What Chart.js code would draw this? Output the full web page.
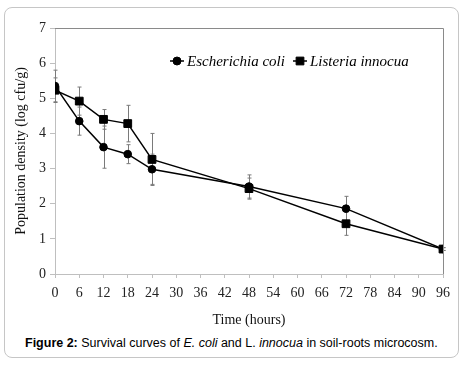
<!DOCTYPE html>
<html>
<head>
<meta charset="utf-8">
<script src="https://cdn.jsdelivr.net/npm/chart.js@4/dist/chart.umd.min.js"></script>
<style>
  html, body { margin: 0; padding: 0; background: #fff; }
  body { width: 466px; height: 365px; position: relative; overflow: hidden; }
  #card {
    position: absolute; left: 4px; top: 7px; width: 455px; height: 351px;
    border: 1px solid #c6c6c6; border-radius: 8px; box-sizing: border-box;
  }
  #wrap { position: absolute; left: 0; top: 0; width: 466px; height: 330px; }
  #caption {
    position: absolute; left: 25px; top: 336px;
    font: 12.5px "Liberation Sans", Arial, sans-serif; color: #000; white-space: nowrap;
  }
</style>
</head>
<body>
<div id="card"></div>
<div id="wrap"><canvas id="chart" width="466" height="330"></canvas></div>
<div id="caption"><b>Figure 2:</b> Survival curves of <i>E. coli</i> and L. <i>innocua</i> in soil-roots microcosm.</div>
<script>
    // sampling times (hours)
    const hours = [0, 6, 12, 18, 24, 48, 72, 96];
    const xTicks = [0, 6, 12, 18, 24, 30, 36, 42, 48, 54, 60, 66, 72, 78, 84, 90, 96];

    // log cfu/g
    const ecoli = [5.35, 4.35, 3.61, 3.41, 2.98, 2.49, 1.86, 0.71];
    const ecoliErr = [0.45, 0.40, 0.60, 0.27, 0.43, 0.33, 0.35, 0.04];
    const listeria = [5.23, 4.92, 4.40, 4.28, 3.26, 2.43, 1.43, 0.71];
    const listeriaErr = [0.35, 0.40, 0.28, 0.52, 0.74, 0.30, 0.33, 0.04];

    const serif = '"Liberation Serif", "Times New Roman", serif';

    const toPoints = (vals) => vals.map((v, i) => ({ x: hours[i], y: v }));

    // gray error bars with small caps, drawn behind the markers
    const errorBars = {
        id: 'errorBars',
        beforeDatasetsDraw(chart) {
            const { ctx, scales: { x, y } } = chart;
            const errs = [ecoliErr, listeriaErr];
            ctx.save();
            ctx.strokeStyle = '#7a7a7a';
            ctx.lineWidth = 1;
            chart.data.datasets.forEach((ds, d) => {
                ds.data.forEach((p, i) => {
                    const px = Math.round(x.getPixelForValue(p.x)) + 0.5;
                    const top = y.getPixelForValue(p.y + errs[d][i]);
                    const bot = y.getPixelForValue(p.y - errs[d][i]);
                    ctx.beginPath();
                    ctx.moveTo(px, top); ctx.lineTo(px, bot);
                    ctx.moveTo(px - 2, top); ctx.lineTo(px + 2, top);
                    ctx.moveTo(px - 2, bot); ctx.lineTo(px + 2, bot);
                    ctx.stroke();
                });
            });
            ctx.restore();
        }
    };

    // top and right frame lines plus the in-plot legend
    const frameAndLegend = {
        id: 'frameAndLegend',
        afterDraw(chart) {
            const { ctx, chartArea: a } = chart;
            ctx.save();
            ctx.strokeStyle = '#8a8a8a';
            ctx.lineWidth = 1;
            ctx.beginPath();
            ctx.moveTo(a.left, a.top + 0.5);
            ctx.lineTo(Math.round(a.right) + 0.5, a.top + 0.5);
            ctx.lineTo(Math.round(a.right) + 0.5, a.bottom);
            ctx.stroke();

            const items = [
                { text: 'Escherichia coli', style: 'circle', r: 4, cx: 177 },
                { text: 'Listeria innocua', style: 'rect', r: 5.5, cx: 300 }
            ];
            const ly = 61;
            ctx.font = 'italic 15px ' + serif;
            ctx.textBaseline = 'middle';
            items.forEach((it) => {
                ctx.strokeStyle = '#000';
                ctx.lineWidth = 1.5;
                ctx.beginPath();
                ctx.moveTo(it.cx - 7, ly); ctx.lineTo(it.cx + 7, ly);
                ctx.stroke();
                ctx.lineWidth = 1;
                ctx.fillStyle = '#000';
                Chart.helpers.drawPoint(ctx, { pointStyle: it.style, radius: it.r, borderWidth: 1 }, it.cx, ly);
                ctx.fillStyle = '#000';
                ctx.fillText(it.text, it.cx + 10, ly + 1);
            });
            ctx.restore();
        }
    };

    new Chart(document.getElementById('chart'), {
        type: 'line',
        data: {
            datasets: [{
                label: 'Escherichia coli',
                data: toPoints(ecoli),
                borderColor: '#000',
                backgroundColor: '#000',
                borderWidth: 1.5,
                pointStyle: 'circle',
                pointRadius: 3.8,
                pointBorderWidth: 1
            }, {
                label: 'Listeria innocua',
                data: toPoints(listeria),
                borderColor: '#000',
                backgroundColor: '#000',
                borderWidth: 1.5,
                pointStyle: 'rect',
                pointRadius: 5.5,
                pointBorderWidth: 1
            }]
        },
        options: {
            responsive: false,
            animation: false,
            layout: { padding: { left: 0, right: 23, top: 28, bottom: 0 } },
            plugins: { legend: { display: false }, tooltip: { enabled: false } },
            scales: {
                x: {
                    type: 'linear',
                    min: 0,
                    max: 96,
                    afterBuildTicks: (scale) => { scale.ticks = xTicks.map(v => ({ value: v })); },
                    afterFit: (scale) => { scale.height = 56; },
                    grid: { drawOnChartArea: false, tickLength: 4, color: '#bfbfbf' },
                    border: { color: '#bfbfbf' },
                    ticks: { color: '#222', padding: 7, maxRotation: 0, autoSkip: false, font: { family: serif, size: 14 } },
                    title: { display: true, text: 'Time (hours)', color: '#111', padding: { top: 0, bottom: 1 }, font: { family: serif, size: 14 } }
                },
                y: {
                    min: 0,
                    max: 7,
                    afterFit: (scale) => { scale.width = 55; },
                    grid: { drawOnChartArea: false, tickLength: 5, color: '#bfbfbf' },
                    border: { color: '#bfbfbf' },
                    ticks: { stepSize: 1, autoSkip: false, color: '#222', padding: 4, font: { family: serif, size: 14 } },
                    title: { display: true, text: 'Population density (log cfu/g)', color: '#111', padding: { top: 13, bottom: 0 }, font: { family: serif, size: 14 } }
                }
            }
        },
        plugins: [errorBars, frameAndLegend]
    });
</script>
</body>
</html>
